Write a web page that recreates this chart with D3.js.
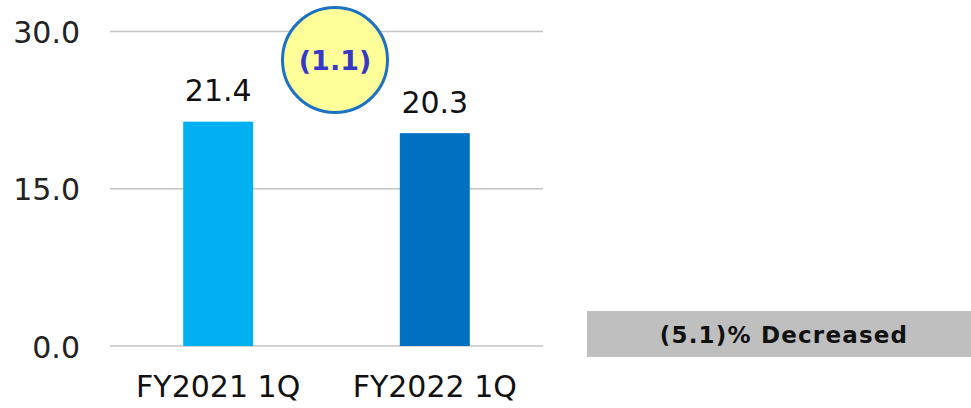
<!DOCTYPE html>
<html>
<head>
<meta charset="utf-8">
<script src="https://cdn.jsdelivr.net/npm/d3@7"></script>
<style>
body{margin:0;background:#fff;}
svg text{font-family:"DejaVu Sans",Verdana,sans-serif;}
</style>
</head>
<body>
<svg id="chart" width="971" height="408"></svg>
<script>
var categories = ["FY2021 1Q","FY2022 1Q"];
var values = [21.4,20.3];
var barColors = ["#00b0f0","#0070c0"];
var tickValues = [0,15,30];
var diffLabel = "(1.1)";
var changeLabel = "(5.1)% Decreased";

var svg = d3.select("#chart");

var x = d3.scaleBand().domain(categories).range([110,543]).paddingInner(0.677).paddingOuter(0.338);
var y = d3.scaleLinear().domain([0,30]).range([346,31.5]);

// gridlines
svg.append("g").selectAll("line").data(tickValues)
	.enter().append("line")
	.attr("x1",110).attr("x2",543)
	.attr("y1",function(d){return y(d)}).attr("y2",function(d){return y(d)})
	.attr("stroke","#c4c4c4").attr("stroke-width",1.5);

// y tick labels
svg.append("g").selectAll("text").data(tickValues)
	.enter().append("text")
	.attr("x",80).attr("y",function(d){return y(d)+11.5})
	.attr("text-anchor","end")
	.attr("font-size",30)
	.attr("fill","#222")
	.text(function(d){return d3.format(".1f")(d)});

// bars
svg.append("g").selectAll("rect").data(values)
	.enter().append("rect")
	.attr("x",function(d,i){return x(categories[i])})
	.attr("width",x.bandwidth())
	.attr("y",function(d){return y(d)})
	.attr("height",function(d){return y(0)-y(d)})
	.attr("fill",function(d,i){return barColors[i]});

// value labels
svg.append("g").selectAll("text").data(values)
	.enter().append("text")
	.attr("x",function(d,i){return x(categories[i])+x.bandwidth()/2})
	.attr("y",function(d){return y(d)-20.5})
	.attr("text-anchor","middle")
	.attr("font-size",30)
	.attr("fill","#111")
	.text(function(d){return d3.format(".1f")(d)});

// category labels
svg.append("g").selectAll("text").data(categories)
	.enter().append("text")
	.attr("x",function(d){return x(d)+x.bandwidth()/2})
	.attr("y",397)
	.attr("text-anchor","middle")
	.attr("font-size",30)
	.attr("fill","#111")
	.text(function(d){return d});

// difference bubble
var bubble = svg.append("g").attr("transform","translate(335,60)");
bubble.append("circle").attr("r",52.5)
	.attr("fill","#ffff99").attr("stroke","#1a72c4").attr("stroke-width",3);
bubble.append("text").attr("y",10).attr("text-anchor","middle")
	.attr("font-size",27).attr("font-weight","bold").attr("fill","#3838c8")
	.text(diffLabel);

// change box
svg.append("rect").attr("x",587).attr("y",311).attr("width",384).attr("height",46).attr("fill","#bfbfbf");
svg.append("text").attr("x",784).attr("y",343).attr("text-anchor","middle")
	.attr("font-size",23).attr("font-weight","bold").attr("fill","#111")
	.style("letter-spacing","1.2px")
	.text(changeLabel);
</script>
</body>
</html>
